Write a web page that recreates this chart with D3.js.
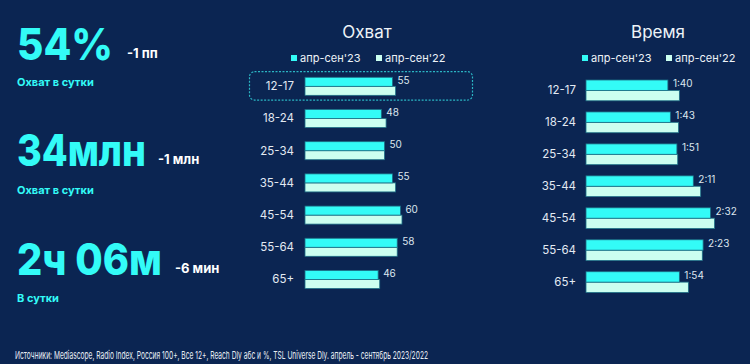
<!DOCTYPE html>
<html><head><meta charset="utf-8">
<script src="https://cdn.jsdelivr.net/npm/d3@7"></script>
<style>
html,body{margin:0;padding:0;background:#0b2552;}
svg{display:block;}
</style></head>
<body>
<svg id="c" width="750" height="364"></svg>
<script>
const categories = ["12-17","18-24","25-34","35-44","45-54","55-64","65+"];
const seriesNames = ["апр-сен'23","апр-сен'22"];
const reach23 = [55,48,50,55,60,58,46];
const reach22 = [57,51,50,57,61,58,47];
const time23 = [100,103,111,131,152,143,114]; // minutes
const time22 = [114,113,112,140,157,142,125];
const time23Labels = ["1:40","1:43","1:51","2:11","2:32","2:23","1:54"];
const kpiValues = ["54%","34млн","2ч 06м"];
const kpiDeltas = ["-1 пп","-1 млн","-6 мин"];
const kpiCaptions = ["Охват в сутки","Охват в сутки","В сутки"];
const footnote = "Источники: Mediascope, Radio Index, Россия 100+, Все 12+, Reach Dly абс и %, TSL Universe Dly. апрель - сентябрь 2023/2022";

const C23 = "#33fbf7", C22 = "#ccfff0", STROKE = "#1d6f86", BG = "#0b2552";
const FONT = "Inter, 'Noto Sans', sans-serif";
const svg = d3.select("#c");
svg.append("rect").attr("width",750).attr("height",364).attr("fill",BG);

// KPIs
const kpiBase = [60, 166, 275];
const kpiWidth = [96, 129, 145];
const deltaX = [127, 158, 175];
const capBase = [86, 194, 302];
kpiValues.forEach((v,i)=>{
  const t = svg.append("text").attr("x",0).attr("y",0).text(v)
    .attr("font-family",FONT).attr("font-weight",800).attr("font-size",44)
    .attr("fill",C23);
  const w = t.node().getComputedTextLength();
  t.attr("transform",`translate(17,${kpiBase[i]}) scale(${kpiWidth[i]/w},1)`);
  svg.append("text").attr("x",deltaX[i]).attr("y",kpiBase[i]-2).text(kpiDeltas[i])
    .attr("font-family",FONT).attr("font-weight",700).attr("font-size",13)
    .attr("fill","#ffffff");
  svg.append("text").attr("x",17).attr("y",capBase[i]).text(kpiCaptions[i])
    .attr("font-family",FONT).attr("font-weight",700).attr("font-size",11)
    .attr("fill",C23);
});

function panel(opts){
  const {title, titleX, x0, pxPerUnit, yRange, padIn, v23, v22, lab23, labelX, legendX} = opts;
  const x = d3.scaleLinear().domain([0,100]).range([x0, x0+100*pxPerUnit]);
  const y = d3.scaleBand().domain(categories).range(yRange).paddingInner(padIn).paddingOuter(0);
  const ys = d3.scaleBand().domain(seriesNames).range([0,y.bandwidth()]);
  const g = svg.append("g");
  g.append("text").attr("x",titleX).attr("y",38).attr("text-anchor","middle").text(title)
    .attr("font-family",FONT).attr("font-size",17).attr("fill","#eef3f8");
  seriesNames.forEach((s,i)=>{
    const lx = legendX[i];
    g.append("rect").attr("x",lx).attr("y",55).attr("width",6).attr("height",6)
      .attr("fill", i===0?C23:C22);
    g.append("text").attr("x",lx+9).attr("y",62).text(s)
      .attr("font-family",FONT).attr("font-size",11).attr("fill","#eef3f8");
  });
  if (opts.highlight){
    const cy = y(categories[0]);
    g.append("rect").attr("x",opts.highlight[0]).attr("width",opts.highlight[1]-opts.highlight[0])
      .attr("y",cy-5.6).attr("height",y.bandwidth()+10.3).attr("rx",5)
      .attr("fill","none").attr("stroke","#2bb6c4").attr("stroke-width",1.2)
      .attr("stroke-dasharray","2,1.5");
  }
  const rows = categories.map((c,i)=>({c, a:v23[i], b:v22[i], l:lab23[i]}));
  const row = g.selectAll("g.row").data(rows).join("g").attr("class","row")
    .attr("transform",d=>`translate(0,${y(d.c)})`);
  row.append("text").attr("x",labelX).attr("y",y.bandwidth()/2+4).attr("text-anchor","end")
    .text(d=>d.c).attr("font-family",FONT).attr("font-size",11.5).attr("fill","#e3eaf2");
  row.append("rect").attr("x",x(0)).attr("y",ys(seriesNames[1]))
    .attr("width",d=>x(d.b)-x(0)).attr("height",ys.bandwidth())
    .attr("fill",C22).attr("stroke",STROKE).attr("stroke-width",0.8);
  row.append("rect").attr("x",x(0)).attr("y",ys(seriesNames[0]))
    .attr("width",d=>x(d.a)-x(0)).attr("height",ys.bandwidth())
    .attr("fill",C23).attr("stroke",STROKE).attr("stroke-width",0.8);
  row.append("text").attr("x",d=>x(d.a)+5).attr("y",ys.bandwidth()/2+2)
    .text(d=>d.l).attr("font-family",FONT).attr("font-size",10).attr("fill","#dde5ee");
}

panel({title:"Охват", titleX:367, x0:305, pxPerUnit:1.59, yRange:[77.3,288.5], padIn:0.44,
  v23:reach23, v22:reach22, lab23:reach23.map(String), labelX:294, legendX:[291,376],
  highlight:[249.5,472.5]});
panel({title:"Время", titleX:658, x0:586, pxPerUnit:0.819, yRange:[80,292.5], padIn:0.35,
  v23:time23, v22:time22, lab23:time23Labels, labelX:576, legendX:[582,666]});

svg.append("text").attr("x",15).attr("y",359).text(footnote)
  .attr("font-family",FONT).attr("font-size",11).attr("fill","#e6ecf3")
  .attr("textLength",413).attr("lengthAdjust","spacingAndGlyphs");
</script>
</body></html>
